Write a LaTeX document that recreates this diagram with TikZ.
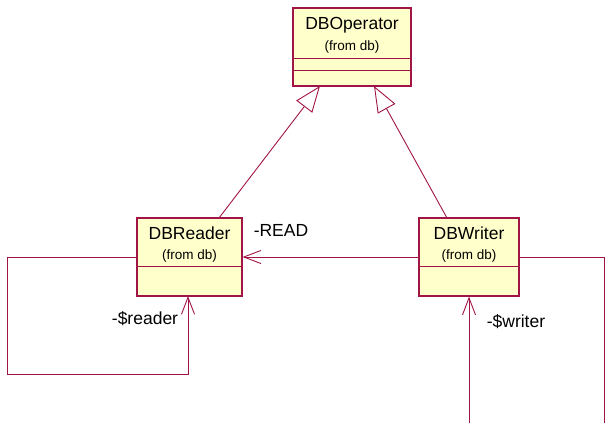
\documentclass[tikz,border=0pt]{standalone}
\usepackage{fontspec}
\setmainfont{Liberation Sans}
\usetikzlibrary{arrows.meta}
\definecolor{umlline}{RGB}{160,20,70}
\definecolor{umlfill}{RGB}{255,255,204}
\tikzset{
  classbox/.style={draw=umlline, fill=umlfill, line width=1.2pt, inner sep=0pt},
  cname/.style={font=\fontsize{17.5}{20}\selectfont, inner sep=0pt},
  cfrom/.style={font=\fontsize{13.5}{16}\selectfont, inner sep=0pt},
  lbl/.style={font=\fontsize{17.5}{20}\selectfont, inner sep=0pt},
  conn/.style={draw=umlline, line width=0.9pt},
  navarrow/.style={conn, -{Straight Barb[length=17pt, width=13pt, line width=0.9pt]}},
  genarrow/.style={conn, -{Triangle[open, length=26pt, width=20pt, line width=0.9pt, fill=white]}},
}
\begin{document}
\begin{tikzpicture}[x=1pt, y=-1pt]
\useasboundingbox (0,0) rectangle (605,423);

% classes
\node[classbox, minimum width=118pt, minimum height=78pt] (op) at (352,47) {};
\draw[draw=umlline, line width=1.2pt] ([yshift=-51pt]op.north west) -- ([yshift=-51pt]op.north east);
\draw[draw=umlline, line width=1.2pt] ([yshift=-63pt]op.north west) -- ([yshift=-63pt]op.north east);
\node[cname] (opname) at (352,25) {DBOperator};
\node[cfrom] (opfrom) at (352,47) {(from db)};

\node[classbox, minimum width=105pt, minimum height=78pt] (rd) at (189.5,257) {};
\draw[draw=umlline, line width=1.2pt] ([yshift=-49pt]rd.north west) -- ([yshift=-49pt]rd.north east);
\node[cname] (rdname) at (189.5,233) {DBReader};
\node[cfrom] (rdfrom) at (189.5,256) {(from db)};

\node[classbox, minimum width=100pt, minimum height=78pt] (wr) at (469,257) {};
\draw[draw=umlline, line width=1.2pt] ([yshift=-49pt]wr.north west) -- ([yshift=-49pt]wr.north east);
\node[cname] (wrname) at (469,233) {DBWriter};
\node[cfrom] (wrfrom) at (469,256) {(from db)};

% generalizations
\coordinate (rdtop) at (219,218);
\coordinate (optipl) at (320,86);
\coordinate (wrtop) at (447,218);
\coordinate (optipr) at (374,86);
\draw[genarrow] (rdtop) -- (optipl);
\draw[genarrow] (wrtop) -- (optipr);

% association READ
\draw[navarrow] (wr.west) -- (rd.east);
\node[lbl] (readlbl) at (281,230) {-READ};

% self association of the reader
\coordinate (l1) at (7,257);
\coordinate (l2) at (7,374);
\coordinate (l3) at (188,374);
\coordinate (rdbot) at (188,296);
\draw[navarrow] (rd.west) -- (l1) -- (l2) -- (l3) -- (rdbot);
\node[lbl] (readerlbl) at (145,319) {-\$reader};

% self association of the writer
\coordinate (w1) at (604,257);
\coordinate (w2) at (604,423);
\coordinate (w3) at (469,423);
\draw[conn] (wr.east) -- (w1) -- (w2);
\draw[navarrow] (w3) -- (wr.south);
\node[lbl] (writerlbl) at (516,322) {-\$writer};
\end{tikzpicture}
\end{document}
